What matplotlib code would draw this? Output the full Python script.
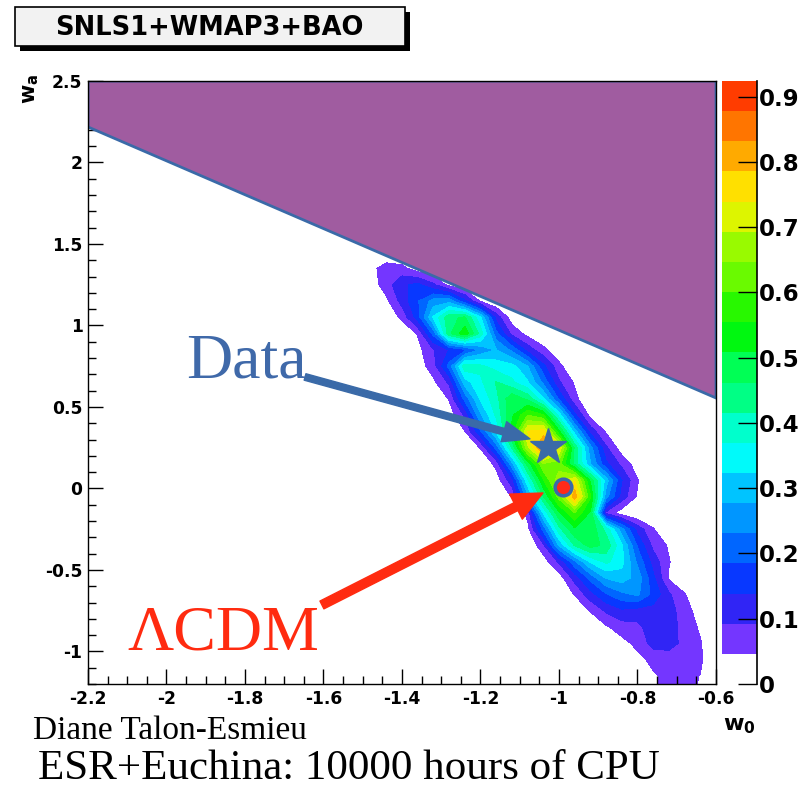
import numpy as np
import matplotlib
matplotlib.use("Agg")
import matplotlib.pyplot as plt
from matplotlib.colors import ListedColormap, BoundaryNorm
from matplotlib.cm import ScalarMappable
from matplotlib.patches import Rectangle
from matplotlib.ticker import MultipleLocator, FuncFormatter

# ---------------- data ----------------
TITLE = "SNLS1+WMAP3+BAO"
X_LABEL = r"$\mathbf{w_0}$"
Y_LABEL = r"$\mathbf{w_a}$"

# bin centres of the probability map
W0_CENTRES = np.round(np.arange(-1.56, -0.59, 0.04), 2)      # 25 columns
WA_CENTRES = np.round(np.arange(1.45, -1.26, -0.1), 2)       # 28 rows (top -> bottom)

# each row: (index of first non-empty w0 column, probability values)
PROB_ROWS = [
    (0, []),
    (2, [0.03, 0.07, 0.06, 0.02]),
    (2, [0.02, 0.07, 0.13, 0.15, 0.10, 0.03]),
    (3, [0.035, 0.11, 0.18, 0.25, 0.26, 0.15, 0.04]),
    (4, [0.06, 0.16, 0.33, 0.45, 0.47, 0.33, 0.12, 0.02]),
    (5, [0.05, 0.20, 0.45, 0.54, 0.40, 0.20, 0.08, 0.03]),
    (5, [0.03, 0.09, 0.14, 0.17, 0.24, 0.28, 0.22, 0.12, 0.06, 0.01]),
    (5, [0.02, 0.07, 0.20, 0.40, 0.38, 0.35, 0.34, 0.28, 0.15, 0.06]),
    (6, [0.035, 0.10, 0.30, 0.36, 0.42, 0.38, 0.33, 0.22, 0.10, 0.04]),
    (7, [0.05, 0.20, 0.33, 0.40, 0.50, 0.45, 0.33, 0.18, 0.06]),
    (7, [0.02, 0.10, 0.27, 0.38, 0.50, 0.60, 0.56, 0.35, 0.15, 0.03]),
    (8, [0.045, 0.18, 0.33, 0.52, 0.74, 0.76, 0.52, 0.30, 0.12, 0.04]),
    (9, [0.05, 0.20, 0.42, 0.68, 0.86, 0.74, 0.45, 0.25, 0.10, 0.02]),
    (10, [0.06, 0.26, 0.48, 0.64, 0.62, 0.45, 0.28, 0.15, 0.08, 0.02]),
    (10, [0.02, 0.12, 0.36, 0.55, 0.68, 0.74, 0.50, 0.30, 0.14, 0.05]),
    (11, [0.05, 0.26, 0.46, 0.62, 0.82, 0.56, 0.25, 0.12, 0.04]),
    (12, [0.06, 0.33, 0.50, 0.60, 0.50, 0.08, 0.02]),
    (12, [0.03, 0.20, 0.40, 0.50, 0.50, 0.40, 0.25, 0.12, 0.05]),
    (13, [0.08, 0.28, 0.42, 0.48, 0.45, 0.33, 0.18, 0.08, 0.04]),
    (13, [0.02, 0.10, 0.22, 0.33, 0.38, 0.34, 0.22, 0.12, 0.05]),
    (14, [0.02, 0.11, 0.20, 0.28, 0.30, 0.26, 0.15, 0.04]),
    (15, [0.05, 0.12, 0.18, 0.22, 0.24, 0.17, 0.10, 0.05]),
    (16, [0.05, 0.10, 0.13, 0.12, 0.12, 0.11, 0.07, 0.02]),
    (17, [0.04, 0.07, 0.08, 0.12, 0.12, 0.07, 0.04]),
    (18, [0.03, 0.06, 0.11, 0.11, 0.08, 0.05]),
    (19, [0.03, 0.06, 0.07, 0.07, 0.055]),
    (20, [0.04, 0.06, 0.06, 0.045]),
    (20, [0.04, 0.06, 0.06, 0.04]),
]

Z_MAX = 0.924          # top of the palette axis
N_CONTOURS = 20
CB_TICKS = [0, 0.1, 0.2, 0.3, 0.4, 0.5, 0.6, 0.7, 0.8, 0.9]

# excluded region (upper polygon)
EXCL_W0 = [-2.2, -0.6, -0.6, -2.2]
EXCL_WA = [2.5, 2.5, 0.555, 2.218]

# best fit (star) and LCDM (circle)
DATA_POINT = (-1.028, 0.255)
LCDM_POINT = (-0.99, 0.01)
DATA_ARROW_TAIL, DATA_ARROW_HEAD = (-1.647, 0.684), (-1.074, 0.304)
LCDM_ARROW_TAIL, LCDM_ARROW_HEAD = (-1.604, -0.715), (-1.041, -0.028)

# ---------------- styles ----------------
BAND_COLORS = ['#7436FF', '#3025F5', '#0838FF', '#0066FF', '#0096FF',
               '#00C4FF', '#00FAFA', '#00FFCC', '#00FF85', '#00FF55',
               '#00F810', '#28F800', '#6AFA00', '#99FA00', '#DDF500',
               '#FFE000', '#FFAA00', '#FF7500', '#FF3C00']
PURPLE = '#A05CA0'
EDGE_BLUE = '#3A6AA8'
TEXT_BLUE = '#3F69A9'
RED = '#FF2B10'

plt.rcParams['mathtext.fontset'] = 'dejavusans'
plt.rcParams['font.family'] = ['DejaVu Sans']
plt.rcParams['font.weight'] = 'bold'

W, H = 811, 788
def fx(x):
    return x / W
def fy(y):
    return 1 - y / H

# build grid
Z = np.zeros((len(WA_CENTRES), len(W0_CENTRES)))
for i, (start, vals) in enumerate(PROB_ROWS):
    Z[i, start:start + len(vals)] = vals
Z = Z[::-1]
WA_ASC = WA_CENTRES[::-1]
X, Y = np.meshgrid(W0_CENTRES, WA_ASC)

levels = Z_MAX * np.arange(N_CONTOURS + 1) / N_CONTOURS

fig = plt.figure(figsize=(W / 100, H / 100), dpi=100)
fig.patch.set_facecolor('white')

ax = fig.add_axes([fx(88), fy(684), (716 - 88) / W, (684 - 81) / H])
ax.set_xlim(-2.2, -0.6)
ax.set_ylim(-1.2, 2.5)

ax.contourf(X, Y, Z, levels=levels[1:], colors=BAND_COLORS, zorder=1)
ax.fill(EXCL_W0, EXCL_WA, facecolor=PURPLE, edgecolor=EDGE_BLUE, lw=2.0, zorder=2)

ax.annotate('', xy=DATA_ARROW_HEAD, xytext=DATA_ARROW_TAIL,
            arrowprops=dict(arrowstyle='simple,head_length=1.3,head_width=1.0,tail_width=0.32',
                            color=EDGE_BLUE, mutation_scale=15, shrinkA=0, shrinkB=0), zorder=6)
ax.annotate('', xy=LCDM_ARROW_HEAD, xytext=LCDM_ARROW_TAIL,
            arrowprops=dict(arrowstyle='simple,head_length=1.45,head_width=1.35,tail_width=0.42',
                            color=RED, mutation_scale=15, shrinkA=0, shrinkB=0), zorder=6)

ax.plot(*DATA_POINT, marker='*', ms=27, color=EDGE_BLUE, mec=EDGE_BLUE, zorder=7)
ax.plot(*LCDM_POINT, marker='o', ms=12, mfc='#FF2A1A', mec=EDGE_BLUE, mew=2.5, zorder=7)

fmt = FuncFormatter(lambda v, p: '%g' % (round(v, 6) + 0.0))
ax.xaxis.set_major_locator(MultipleLocator(0.2))
ax.xaxis.set_minor_locator(MultipleLocator(0.05))
ax.yaxis.set_major_locator(MultipleLocator(0.5))
ax.yaxis.set_minor_locator(MultipleLocator(0.1))
ax.xaxis.set_major_formatter(fmt)
ax.yaxis.set_major_formatter(fmt)
ax.tick_params(which='both', direction='in', top=False, right=False, width=1.0)
ax.tick_params(which='major', length=10.5, labelsize=12.3)
ax.tick_params(axis='y', which='major', pad=4.0)
ax.tick_params(axis='x', which='major', pad=4.5)
ax.tick_params(which='minor', length=6)
for s in ax.spines.values():
    s.set_linewidth(1.0)

# palette axis
cax = fig.add_axes([fx(722), fy(684), 35 / W, (684 - 81) / H])
cmap_cb = ListedColormap(['white'] + BAND_COLORS)
norm = BoundaryNorm(levels, cmap_cb.N)
sm = ScalarMappable(norm=norm, cmap=cmap_cb)
cb = fig.colorbar(sm, cax=cax, ticks=CB_TICKS)
cb.outline.set_visible(False)
cax.spines['right'].set_visible(True)
cax.spines['right'].set_linewidth(1.2)
cax.yaxis.set_ticks_position('right')
cax.yaxis.set_major_formatter(fmt)
cax.minorticks_off()
cax.tick_params(axis='y', direction='in', length=13.5, width=1.0, labelsize=16.5, pad=1.5)

# title box with shadow
fig.patches.append(Rectangle((fx(20), fy(51)), (410 - 20) / W, (51 - 12) / H,
                             transform=fig.transFigure, facecolor='black', edgecolor='none'))
fig.patches.append(Rectangle((fx(15), fy(46)), (405 - 15) / W, (46 - 7) / H,
                             transform=fig.transFigure, facecolor='#f2f2f2',
                             edgecolor='black', lw=1.2))
fig.text(fx(209), fy(28), TITLE, ha='center', va='center', fontsize=18.5, fontweight='bold')

fig.text(fx(31), fy(74), Y_LABEL, rotation=90, ha='center', va='top', fontsize=15)
fig.text(fx(723), fy(716), X_LABEL, ha='left', va='top', fontsize=16)

serif = ['Liberation Serif', 'DejaVu Serif']
fig.text(fx(186), fy(377), 'Data', fontsize=46, color=TEXT_BLUE, family=serif,
         fontweight='normal', ha='left', va='baseline')
fig.text(fx(127), fy(650), '\u039bCDM', fontsize=46, color=RED, family=serif,
         fontweight='normal', ha='left', va='baseline')
fig.text(fx(33), fy(739), 'Diane Talon-Esmieu', fontsize=24, color='black', family=serif,
         fontweight='normal', ha='left', va='baseline')
fig.text(fx(38), fy(779), 'ESR+Euchina: 10000 hours of CPU', fontsize=31, color='black',
         family=serif, fontweight='normal', ha='left', va='baseline')

fig.savefig('out.png', dpi=100)
